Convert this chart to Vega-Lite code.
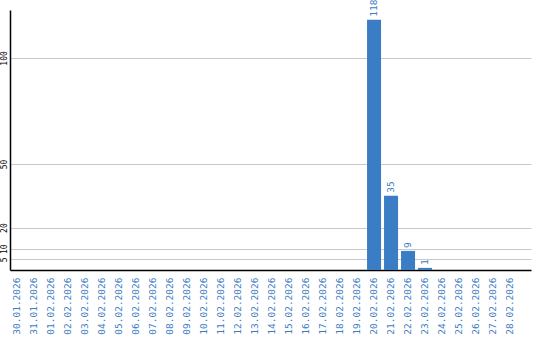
{
  "$schema": "https://vega.github.io/schema/vega-lite/v6.json",
  "autosize": "none",
  "width": 521,
  "height": 260,
  "padding": {"left": 10, "top": 10, "right": 9, "bottom": 70},
  "background": "white",
  "config": {"view": {"stroke": null}},
  "data": {"values": [
    {"d": "30.01.2026", "v": 0}, {"d": "31.01.2026", "v": 0},
    {"d": "01.02.2026", "v": 0}, {"d": "02.02.2026", "v": 0},
    {"d": "03.02.2026", "v": 0}, {"d": "04.02.2026", "v": 0},
    {"d": "05.02.2026", "v": 0}, {"d": "06.02.2026", "v": 0},
    {"d": "07.02.2026", "v": 0}, {"d": "08.02.2026", "v": 0},
    {"d": "09.02.2026", "v": 0}, {"d": "10.02.2026", "v": 0},
    {"d": "11.02.2026", "v": 0}, {"d": "12.02.2026", "v": 0},
    {"d": "13.02.2026", "v": 0}, {"d": "14.02.2026", "v": 0},
    {"d": "15.02.2026", "v": 0}, {"d": "16.02.2026", "v": 0},
    {"d": "17.02.2026", "v": 0}, {"d": "18.02.2026", "v": 0},
    {"d": "19.02.2026", "v": 0}, {"d": "20.02.2026", "v": 118},
    {"d": "21.02.2026", "v": 35}, {"d": "22.02.2026", "v": 9},
    {"d": "23.02.2026", "v": 1}, {"d": "24.02.2026", "v": 0},
    {"d": "25.02.2026", "v": 0}, {"d": "26.02.2026", "v": 0},
    {"d": "27.02.2026", "v": 0}, {"d": "28.02.2026", "v": 0}
  ]},
  "encoding": {
    "x": {
      "field": "d", "type": "ordinal", "sort": null,
      "scale": {"paddingInner": 0.176, "paddingOuter": 0.41, "align": 0},
      "axis": {
        "title": null, "labelAngle": -90, "ticks": false,
        "domainColor": "black", "domainWidth": 1.5,
        "labelColor": "#3a7cc4", "labelFont": "DejaVu Sans Mono",
        "labelFontSize": 9.5, "labelPadding": 7
      }
    },
    "y": {
      "field": "v", "type": "quantitative",
      "scale": {"domain": [0, 122.6], "nice": false},
      "axis": {
        "title": null, "values": [5, 10, 20, 50, 100], "ticks": false,
        "labelAngle": -90, "labelFont": "DejaVu Sans Mono", "labelFontSize": 8,
        "labelColor": "black", "labelPadding": 2,
        "domainColor": "black", "domainWidth": 1.5,
        "grid": true, "gridColor": "#c8c8c8", "gridWidth": 1
      }
    }
  },
  "layer": [
    {"mark": {"type": "bar", "color": "#3b7dc5"}},
    {
      "transform": [{"filter": "datum.v > 0"}],
      "mark": {"type": "text", "angle": -90, "align": "left", "baseline": "middle",
               "dx": 3, "color": "#3a7cc4", "font": "DejaVu Sans Mono", "fontSize": 9.5},
      "encoding": {"text": {"field": "v", "type": "quantitative"}}
    }
  ]
}
